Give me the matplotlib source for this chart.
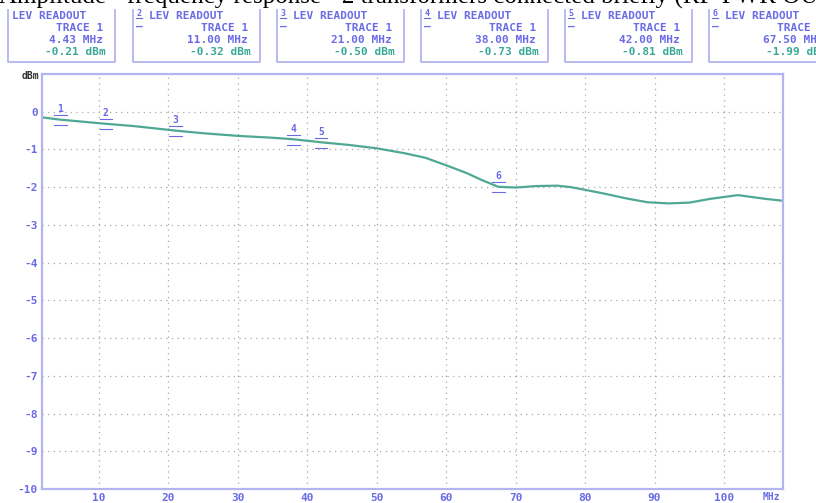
import matplotlib
matplotlib.use("Agg")
import matplotlib.pyplot as plt
from matplotlib.lines import Line2D

# trace (MHz, dBm)
freq = [1.8, 4.43, 8, 11, 15, 21, 25, 30, 35, 38, 42, 46, 50, 54, 57, 60, 63, 65,
        67.5, 70, 73, 76, 78, 80, 83, 86, 89, 92, 95, 98, 100, 102, 104, 106, 108.5]
level = [-0.15, -0.21, -0.27, -0.32, -0.38, -0.50, -0.57, -0.64, -0.69, -0.73, -0.81,
         -0.88, -0.97, -1.10, -1.22, -1.42, -1.63, -1.80, -1.99, -2.01, -1.97, -1.96,
         -2.00, -2.07, -2.18, -2.30, -2.40, -2.43, -2.41, -2.31, -2.26, -2.21, -2.26,
         -2.31, -2.36]

# markers / level readouts
mk_id = ["1", "2", "3", "4", "5", "6"]
mk_freq = [4.43, 11.00, 21.00, 38.00, 42.00, 67.50]
mk_level = [-0.21, -0.32, -0.50, -0.73, -0.81, -1.99]

xticks = [10, 20, 30, 40, 50, 60, 70, 80, 90, 100]
yticks = [0, -1, -2, -3, -4, -5, -6, -7, -8, -9, -10]

title = "Amplitude - frequency response - 2 transformers connected briefly (RF-PWR OUT)"

blue = "#6a6ae6"
frame = "#b4b4f0"
teal = "#3aa898"
trace_col = "#4fa894"
W, H = 816, 503

fig = plt.figure(figsize=(W / 100, H / 100), dpi=100)
fig.patch.set_facecolor("white")
ax = fig.add_axes([42 / W, 1 - 489 / H, (783 - 42) / W, (489 - 74) / H])

def px(x, y):
    return x / W, 1 - y / H

mono = dict(family="DejaVu Sans Mono", fontweight="bold")
fs = 8

# title (top part is cut off in the source)
fig.text(*px(-1, 4), title, family="Liberation Serif", fontsize=18, color="black",
         va="baseline", ha="left")

# readout boxes
box_left = [8, 133, 277, 421, 565, 709]
box_right = [115, 260, 404, 548, 692, 836]
for i in range(6):
    l, r = box_left[i], box_right[i]
    fig.add_artist(Line2D([l / W, l / W, r / W, r / W], [1 - 10 / H, 1 - 62 / H, 1 - 62 / H, 1 - 10 / H],
                          color=frame, lw=1.3, transform=fig.transFigure))
    if i == 0:
        fig.text(*px(l + 4, 16), "LEV READOUT", color=blue, fontsize=fs, va="center", ha="left", **mono)
    else:
        fig.text(*px(l + 6, 13), mk_id[i], color=blue, fontsize=6, va="center", ha="center", **mono)
        fig.add_artist(Line2D([(l + 3) / W, (l + 9) / W], [1 - 18 / H, 1 - 18 / H], color=blue, lw=0.8,
                              transform=fig.transFigure))
        fig.text(*px(l + 6, 27), "–", color=blue, fontsize=fs, va="center", ha="center", **mono)
        fig.text(*px(l + 16, 16), "LEV READOUT", color=blue, fontsize=fs, va="center", ha="left", **mono)
    fig.text(*px(r - 12, 28), "TRACE 1", color=blue, fontsize=fs, va="center", ha="right", **mono)
    fig.text(*px(r - 12, 40), "%.2f MHz" % mk_freq[i], color=blue, fontsize=fs, va="center", ha="right", **mono)
    fig.text(*px(r - 9, 52), "%.2f dBm" % mk_level[i], color=teal, fontsize=fs, va="center", ha="right", **mono)

# trace
ax.plot(freq, level, color=trace_col, lw=1.6)

# marker symbols on the trace
for m, f, v in zip(mk_id, mk_freq, mk_level):
    ax.text(f, v + 0.28, m, color=blue, fontsize=7, ha="center", va="center", **mono)
    ax.plot([f - 0.9, f + 0.9], [v + 0.12, v + 0.12], color=blue, lw=0.8)
    ax.plot([f - 0.9, f + 0.9], [v - 0.15, v - 0.15], color=blue, lw=0.8)

ax.set_xlim(1.8, 108.5)
ax.set_ylim(-10, 1.0)
ax.set_xticks(xticks)
ax.set_yticks(yticks)
ax.set_xticklabels([str(t) for t in xticks], color=blue, fontsize=fs, **mono)
ax.set_yticklabels([str(t) for t in yticks], color=blue, fontsize=fs, **mono)
ax.tick_params(length=0, pad=3)
ax.grid(True, color="#a8a8a8", lw=0.9, linestyle=(0, (1, 3.5)))
for s in ax.spines.values():
    s.set_color(frame)
    s.set_linewidth(1.6)

fig.text(*px(30, 76), "dBm", color="#333333", fontsize=7, ha="center", va="center", **mono)
fig.text(*px(771, 497), "MHz", color=blue, fontsize=7, ha="center", va="center", **mono)

fig.savefig("out.png", dpi=100)
